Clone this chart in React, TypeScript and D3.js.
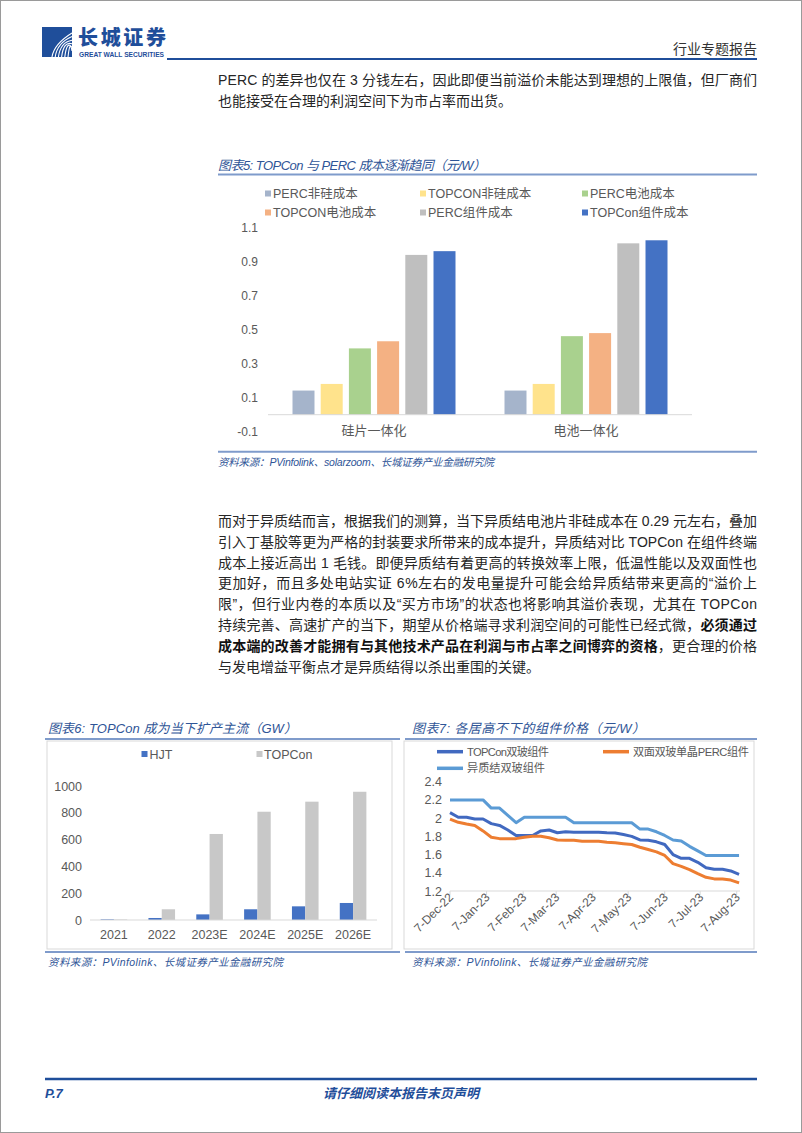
import React from 'react';
import * as d3 from 'd3';

const W = 802;
const H = 1133;
const FONT = '"Liberation Sans", "Noto Sans CJK SC", sans-serif';
const NAVY = '#1F4E9A';
const TITLE = '#2F5597';
const RULE = '#7F9BCB';
const TICK = '#595959';
const AXIS = '#D9D9D9';

// chart 5: cost per W
const costCategories = ['硅片一体化', '电池一体化'];
const costSeries = ['PERC非硅成本', 'TOPCON非硅成本', 'PERC电池成本', 'TOPCON电池成本', 'PERC组件成本', 'TOPCon组件成本'];
const costColors = ['#A5B4CB', '#FFE38C', '#A9D18E', '#F4B183', '#BFBFBF', '#4472C4'];
const percNonSi = [0.142, 0.142];
const topconNonSi = [0.181, 0.181];
const percCell = [0.39, 0.462];
const topconCell = [0.432, 0.48];
const percModule = [0.94, 1.008];
const topconModule = [0.962, 1.026];
const costTicks = [-0.1, 0.1, 0.3, 0.5, 0.7, 0.9, 1.1];

// chart 6: capacity GW
const capYears = ['2021', '2022', '2023E', '2024E', '2025E', '2026E'];
const hjtCap = [5, 15, 42, 80, 102, 127];
const topconCap = [4, 80, 642, 808, 883, 957];
const capTicks = [0, 200, 400, 600, 800, 1000];

// chart 7: module prices, weekly
const priceDates = [
  '2022-12-07', '2022-12-14', '2022-12-21', '2022-12-28', '2023-01-04', '2023-01-11',
  '2023-01-18', '2023-01-25', '2023-02-01', '2023-02-08', '2023-02-15', '2023-02-22',
  '2023-03-01', '2023-03-08', '2023-03-15', '2023-03-22', '2023-03-29', '2023-04-05',
  '2023-04-12', '2023-04-19', '2023-04-26', '2023-05-03', '2023-05-10', '2023-05-17',
  '2023-05-24', '2023-05-31', '2023-06-07', '2023-06-14', '2023-06-21', '2023-06-28',
  '2023-07-05', '2023-07-12', '2023-07-19', '2023-07-26', '2023-08-02', '2023-08-09'
];
const topconPrice = [
  2.06, 2.01, 2.01, 1.99, 1.99, 1.94, 1.92, 1.87, 1.81, 1.81, 1.81, 1.86,
  1.87, 1.84, 1.85, 1.845, 1.845, 1.845, 1.845, 1.84, 1.837, 1.82, 1.80, 1.76,
  1.757, 1.74, 1.71, 1.60, 1.559, 1.559, 1.515, 1.456, 1.438, 1.438, 1.42, 1.383
];
const percPrice = [
  1.99, 1.954, 1.935, 1.92, 1.86, 1.79, 1.775, 1.775, 1.775, 1.79, 1.80, 1.80,
  1.785, 1.76, 1.757, 1.757, 1.747, 1.745, 1.745, 1.735, 1.73, 1.72, 1.71, 1.68,
  1.655, 1.63, 1.59, 1.50, 1.47, 1.435, 1.39, 1.35, 1.333, 1.332, 1.32, 1.29
];
const hjtPrice = [
  2.2, 2.2, 2.2, 2.2, 2.2, 2.11, 2.11, 2.03, 1.95, 2.01, 2.01, 2.01,
  2.01, 2.01, 2.01, 1.95, 1.95, 1.95, 1.95, 1.95, 1.95, 1.95, 1.95, 1.88,
  1.88, 1.85, 1.81, 1.76, 1.75, 1.69, 1.64, 1.59, 1.59, 1.59, 1.59, 1.59
];
const priceTickDates = ['2022-12-07', '2023-01-07', '2023-02-07', '2023-03-07', '2023-04-07', '2023-05-07', '2023-06-07', '2023-07-07', '2023-08-07'];
const priceTicks = [1.2, 1.4, 1.6, 1.8, 2, 2.2, 2.4];

const para1 = [
  [['PERC 的差异也仅在 3 分钱左右，因此即便当前溢价未能达到理想的上限值，但厂商们', false]],
  [['也能接受在合理的利润空间下为市占率而出货。', false]]
];
const para2 = [
  [['而对于异质结而言，根据我们的测算，当下异质结电池片非硅成本在 0.29 元左右，叠加', false]],
  [['引入丁基胶等更为严格的封装要求所带来的成本提升，异质结对比 TOPCon 在组件终端', false]],
  [['成本上接近高出 1 毛钱。即便异质结有着更高的转换效率上限，低温性能以及双面性也', false]],
  [['更加好，而且多处电站实证 6%左右的发电量提升可能会给异质结带来更高的“溢价上', false]],
  [['限”，但行业内卷的本质以及“买方市场”的状态也将影响其溢价表现，尤其在 TOPCon', false]],
  [['持续完善、高速扩产的当下，期望从价格端寻求利润空间的可能性已经式微，', false], ['必须通过', true]],
  [['成本端的改善才能拥有与其他技术产品在利润与市占率之间博弈的资格', true], ['，更合理的价格', false]],
  [['与发电增益平衡点才是异质结得以杀出重围的关键。', false]]
];

function Paragraph({ lines, y0 }: { lines: any[]; y0: number }) {
  return (
    <g>
      {lines.map((parts, i) => {
        const last = i === lines.length - 1;
        return (
          <text key={i} x={218} y={y0 + i * 20.8} fontSize={14} fill="#262626" fontFamily={FONT}
            textLength={last ? undefined : 539} lengthAdjust="spacing">
            {parts.map((p: any, j: number) => (
              <tspan key={j} fontWeight={p[1] ? 700 : 400} fill={p[1] ? '#111' : '#262626'}>{p[0]}</tspan>
            ))}
          </text>
        );
      })}
    </g>
  );
}

function Caption({ x, y, text, width }: { x: number; y: number; text: string; width: number }) {
  return (
    <text x={x} y={y} fontSize={13} fontStyle="italic" fill={TITLE} fontFamily={FONT}
      textLength={width} lengthAdjust="spacing">{text}</text>
  );
}

function Source({ x, y, text, width }: { x: number; y: number; text: string; width: number }) {
  return (
    <text x={x} y={y} fontSize={10.5} fontStyle="italic" fill={TITLE} fontFamily={FONT}
      textLength={width} lengthAdjust="spacing">{text}</text>
  );
}

function CostChart() {
  const y = d3.scaleLinear().domain([-0.1, 1.1]).range([431.7, 227.7]);
  const x0 = d3.scaleBand().domain(costCategories).range([268, 692]);
  const x1 = d3.scaleBand().domain(costSeries).range([24.5, 187.5]).paddingInner(0.22);
  const values = [percNonSi, topconNonSi, percCell, topconCell, percModule, topconModule];
  const legendX = [265, 420, 582];
  return (
    <g fontFamily={FONT}>
      <Caption x={218} y={170} text="图表5:  TOPCon 与 PERC 成本逐渐趋同（元/W）" width={268} />
      <line x1={218} x2={757} y1={174.5} y2={174.5} stroke={RULE} strokeWidth={2} />
      {costSeries.map((s, i) => (
        <g key={s} transform={`translate(${legendX[i % 3]},${i < 3 ? 193.5 : 212.5})`}>
          <rect x={0} y={-3} width={6} height={6} fill={costColors[i]} />
          <text x={8} y={4.5} fontSize={12.5} fill={TICK}>{s}</text>
        </g>
      ))}
      {costTicks.map(t => (
        <text key={t} x={258} y={y(t) + 4.5} textAnchor="end" fontSize={12} fill={TICK}>{t.toFixed(1)}</text>
      ))}
      {costCategories.map((c, ci) => (
        <g key={c} transform={`translate(${x0(c)},0)`}>
          {costSeries.map((s, si) => (
            <rect key={s} x={x1(s)} width={x1.bandwidth()} y={y(values[si][ci])}
              height={y(0) - y(values[si][ci])} fill={costColors[si]} />
          ))}
          <text x={x0.bandwidth() / 2} y={435} textAnchor="middle" fontSize={13} fill={TICK}>{c}</text>
        </g>
      ))}
      <line x1={268} x2={692} y1={y(0)} y2={y(0)} stroke={AXIS} strokeWidth={1} />
      <line x1={218} x2={757} y1={451.7} y2={451.7} stroke={RULE} strokeWidth={2} />
      <Source x={218} y={465.5} text="资料来源：PVinfolink、solarzoom、长城证券产业金融研究院" width={276} />
    </g>
  );
}

function CapacityChart() {
  const y = d3.scaleLinear().domain([0, 1000]).range([920, 786]);
  const x0 = d3.scaleBand().domain(capYears).range([90, 377]);
  const bw = 13.3;
  const half = x0.bandwidth() / 2;
  const x1 = d3.scaleBand().domain(['HJT', 'TOPCon']).range([half - bw, half + bw]);
  return (
    <g fontFamily={FONT}>
      <Caption x={48} y={733} text="图表6:  TOPCon 成为当下扩产主流（GW）" width={249} />
      <line x1={45} x2={400} y1={739} y2={739} stroke={RULE} strokeWidth={2} />
      <rect x={47} y={741} width={345} height={208} fill="none" stroke="#D9D9D9" strokeWidth={1} />
      <rect x={141.5} y={751} width={6} height={6} fill="#4472C4" />
      <text x={149.5} y={758.5} fontSize={12.5} fill={TICK}>HJT</text>
      <rect x={256.5} y={751} width={6} height={6} fill="#C8C8C8" />
      <text x={264} y={758.5} fontSize={12.5} fill={TICK}>TOPCon</text>
      {capTicks.map(t => (
        <text key={t} x={82} y={y(t) + 4.5} textAnchor="end" fontSize={12.5} fill={TICK}>{t}</text>
      ))}
      {capYears.map((c, i) => (
        <g key={c} transform={`translate(${x0(c)},0)`}>
          <rect x={x1('HJT')} width={x1.bandwidth()} y={y(hjtCap[i])} height={y(0) - y(hjtCap[i])} fill="#4472C4" />
          <rect x={x1('TOPCon')} width={x1.bandwidth()} y={y(topconCap[i])} height={y(0) - y(topconCap[i])} fill="#C8C8C8" />
          <text x={half} y={938.5} textAnchor="middle" fontSize={12.5} fill={TICK}>{c}</text>
        </g>
      ))}
      <line x1={90} x2={377} y1={y(0)} y2={y(0)} stroke={AXIS} strokeWidth={1} />
      <line x1={45} x2={400} y1={952} y2={952} stroke={RULE} strokeWidth={2} />
      <Source x={48} y={965.5} text="资料来源：PVinfolink、长城证券产业金融研究院" width={235} />
    </g>
  );
}

function PriceChart() {
  const parse = d3.timeParse('%Y-%m-%d');
  const dates = priceDates.map(d => parse(d) as Date);
  const x = d3.scaleTime().domain([parse('2022-12-07') as Date, parse('2023-08-07') as Date]).range([450, 736.7]);
  const y = d3.scaleLinear().domain([1.2, 2.4]).range([891, 781.7]);
  const line = d3.line<number>().x((_, i) => x(dates[i])).y(v => y(v));
  const series = [
    { name: 'TOPCon双玻组件', data: topconPrice, color: '#4169C0', w: 82 },
    { name: '双面双玻单晶PERC组件', data: percPrice, color: '#ED7D31', w: 116 },
    { name: '异质结双玻组件', data: hjtPrice, color: '#5B9BD5', w: 78 }
  ];
  const legendPos = [[437, 751.7], [603, 751.7], [437, 768.3]];
  const fmt = d3.timeFormat('%-d-%b-%y');
  return (
    <g fontFamily={FONT}>
      <Caption x={412} y={733} text="图表7:  各居高不下的组件价格（元/W）" width={233} />
      <line x1={405} x2={757} y1={739} y2={739} stroke={RULE} strokeWidth={2} />
      <rect x={404} y={741} width={350} height={208} fill="none" stroke="#D9D9D9" strokeWidth={1} />
      {series.map((s, i) => (
        <g key={s.name} transform={`translate(${legendPos[i][0]},${legendPos[i][1]})`}>
          <line x1={0} x2={26} y1={0} y2={0} stroke={s.color} strokeWidth={3.5} />
          <text x={30} y={4} fontSize={11.2} fill={TICK} textLength={s.w} lengthAdjust="spacing">{s.name}</text>
        </g>
      ))}
      {priceTicks.map(t => (
        <text key={t} x={442} y={y(t) + 4.5} textAnchor="end" fontSize={12.5} fill={TICK}>{String(t)}</text>
      ))}
      <line x1={450} x2={740} y1={891} y2={891} stroke={AXIS} strokeWidth={1} />
      {priceTickDates.map(d => {
        const dt = parse(d) as Date;
        const tx = x(dt);
        return (
          <g key={d}>
            <line x1={tx} x2={tx} y1={891} y2={895} stroke={AXIS} strokeWidth={1} />
            <text transform={`translate(${tx + 4},${898}) rotate(-45)`} textAnchor="end" fontSize={12} fill={TICK}>{fmt(dt)}</text>
          </g>
        );
      })}
      {series.map(s => (
        <path key={s.name} d={line(s.data) || ''} fill="none" stroke={s.color} strokeWidth={3} strokeLinejoin="round" />
      ))}
      <line x1={405} x2={757} y1={952} y2={952} stroke={RULE} strokeWidth={2} />
      <Source x={412} y={965.5} text="资料来源：PVinfolink、长城证券产业金融研究院" width={235} />
    </g>
  );
}

function Header() {
  const arcs = [0, 1, 2, 3, 4, 5];
  return (
    <g>
      <rect x={42} y={27} width={30} height={30} fill={NAVY} />
      {arcs.map(i => (
        <path key={i} d={`M${52 + i * 3.2},57 Q${54 + i * 3.2},${44 - i} ${72},${33 + i * 3.6}`}
          fill="none" stroke="#fff" strokeWidth={1.1} />
      ))}
      <text x={78} y={45} fontSize={20} fontWeight={900} fill={NAVY} fontFamily='"Noto Sans CJK SC", sans-serif'
        textLength={88} lengthAdjust="spacing">长城证券</text>
      <text x={79} y={57} fontSize={7} fontWeight={700} fill={NAVY} fontFamily='"Liberation Sans", sans-serif'
        textLength={85} lengthAdjust="spacingAndGlyphs">GREAT WALL SECURITIES</text>
      <text x={757} y={54} textAnchor="end" fontSize={14} fill="#333" fontFamily={FONT}>行业专题报告</text>
      <line x1={167} x2={757} y1={59} y2={59} stroke={NAVY} strokeWidth={2} />
    </g>
  );
}

function Footer() {
  return (
    <g fontFamily={FONT}>
      <line x1={45} x2={757} y1={1079} y2={1079} stroke={NAVY} strokeWidth={2.5} />
      <text x={45} y={1098} fontSize={13} fontWeight={700} fontStyle="italic" fill={NAVY}>P.7</text>
      <text x={401} y={1098} textAnchor="middle" fontSize={13} fontWeight={700} fontStyle="italic" fill={NAVY}>请仔细阅读本报告末页声明</text>
    </g>
  );
}

export default function App() {
  return (
    <svg width={W} height={H} style={{ position: 'absolute', left: 0, top: 0, background: '#fff' }}>
      <rect x={0.5} y={0.5} width={W - 1} height={H - 1} fill="#fff" stroke="#9A9A9A" strokeWidth={1} />
      <Header />
      <Paragraph lines={para1} y0={85} />
      <CostChart />
      <Paragraph lines={para2} y0={526} />
      <CapacityChart />
      <PriceChart />
      <Footer />
    </svg>
  );
}
